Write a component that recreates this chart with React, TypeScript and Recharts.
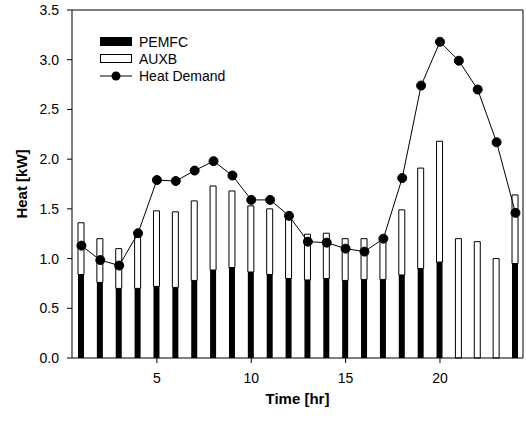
import { Bar, ComposedChart, Line, XAxis, YAxis, ReferenceLine, Label } from 'recharts';

const hours = [1, 2, 3, 4, 5, 6, 7, 8, 9, 10, 11, 12, 13, 14, 15, 16, 17, 18, 19, 20, 21, 22, 23, 24];
const pemfc = [0.84, 0.76, 0.7, 0.7, 0.72, 0.71, 0.78, 0.885, 0.91, 0.865, 0.84, 0.8, 0.785, 0.8, 0.78, 0.79, 0.79, 0.835, 0.9, 0.965, 0, 0, 0, 0.95];
const auxb = [0.52, 0.44, 0.4, 0.55, 0.76, 0.76, 0.8, 0.845, 0.77, 0.665, 0.66, 0.61, 0.46, 0.455, 0.42, 0.41, 0.4, 0.655, 1.01, 1.215, 1.2, 1.17, 1.0, 0.69];
const heatDemand = [1.13, 0.985, 0.93, 1.255, 1.79, 1.78, 1.885, 1.98, 1.835, 1.59, 1.59, 1.43, 1.17, 1.16, 1.1, 1.07, 1.2, 1.81, 2.74, 3.18, 2.99, 2.7, 2.17, 1.46];
const xTicks = [5, 10, 15, 20];
const yTicks = [0, 0.5, 1, 1.5, 2, 2.5, 3, 3.5];

const chartData = hours.map((h, i) => ({
    hour: h,
    pemfc: pemfc[i],
    auxb: auxb[i],
    heat: heatDemand[i],
}));

const font = 'Arial, "Liberation Sans", sans-serif';
const tickStyle = { fontSize: 14, fill: '#000', fontFamily: font };

function LegendBox() {
    const row = { display: 'flex', alignItems: 'center', height: 17 };
    const text = { marginLeft: 7, fontSize: 14, fontFamily: font, color: '#000' };
    return (
        <div style={{ position: 'absolute', left: 100, top: 33 }}>
            <div style={row}>
                <div style={{ width: 32, height: 9, background: '#000' }} />
                <span style={text}>PEMFC</span>
            </div>
            <div style={row}>
                <div style={{ width: 30, height: 7, border: '1px solid #000', background: '#fff' }} />
                <span style={text}>AUXB</span>
            </div>
            <div style={row}>
                <svg width={32} height={10}>
                    <line x1={0} y1={5} x2={32} y2={5} stroke="#000" strokeWidth={1} />
                    <circle cx={16} cy={5} r={4.5} fill="#000" />
                </svg>
                <span style={text}>Heat Demand</span>
            </div>
        </div>
    );
}

export default function App() {
    return (
        <div style={{ position: 'absolute', left: 0, top: 0, width: 526, height: 423, background: '#fff' }}>
            <ComposedChart
                width={526}
                height={423}
                data={chartData}
                margin={{ top: 10, right: 3, left: 0, bottom: 0 }}
            >
                <XAxis
                    dataKey="hour"
                    type="number"
                    domain={[0.5, 24.4]}
                    ticks={xTicks}
                    allowDataOverflow
                    height={65}
                    stroke="#000"
                    tick={tickStyle}
                    tickSize={5}
                    tickMargin={10}
                >
                    <Label
                        value="Time [hr]"
                        position="insideBottom"
                        offset={19}
                        style={{ fontSize: 15, fontWeight: 'bold', fill: '#000', fontFamily: font }}
                    />
                </XAxis>
                <YAxis
                    type="number"
                    domain={[0, 3.5]}
                    ticks={yTicks}
                    width={72}
                    stroke="#000"
                    tick={tickStyle}
                    tickSize={5}
                    tickMargin={8}
                    tickFormatter={(v: number) => v.toFixed(1)}
                >
                    <Label
                        value="Heat [kW]"
                        angle={-90}
                        position="insideLeft"
                        offset={22}
                        style={{ fontSize: 15, fontWeight: 'bold', fill: '#000', fontFamily: font, textAnchor: 'middle' }}
                    />
                </YAxis>
                <ReferenceLine y={3.5} stroke="#000" strokeWidth={1} />
                <ReferenceLine x={24.4} stroke="#000" strokeWidth={1} />
                <Bar dataKey="pemfc" stackId="a" fill="#000" barSize={6} isAnimationActive={false} />
                <Bar dataKey="auxb" stackId="a" fill="#fff" stroke="#000" strokeWidth={1} barSize={6} isAnimationActive={false} />
                <Line
                    dataKey="heat"
                    stroke="#000"
                    strokeWidth={1}
                    dot={{ r: 4.5, fill: '#000', stroke: '#000' }}
                    isAnimationActive={false}
                />
            </ComposedChart>
            <LegendBox />
        </div>
    );
}
